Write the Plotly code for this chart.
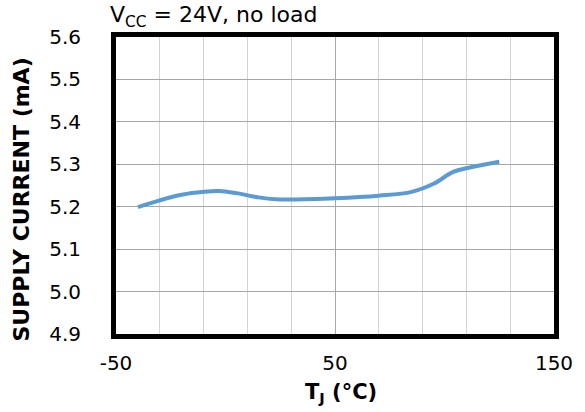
import plotly.graph_objects as go

# Data
temp_c = [-40, -30, -20, -10, -3, 5, 15, 25, 50, 70, 85, 95, 104, 112, 125]
supply_ma = [5.199, 5.215, 5.228, 5.235, 5.237, 5.232, 5.222, 5.217, 5.220, 5.226,
             5.235, 5.254, 5.282, 5.293, 5.306]

x_ticks = [-50, 50, 150]
x_tick_text = ["-50", "50", "150"]
y_ticks = [4.9, 5.0, 5.1, 5.2, 5.3, 5.4, 5.5, 5.6]
y_tick_text = ["4.9", "5.0", "5.1", "5.2", "5.3", "5.4", "5.5", "5.6"]

FONT = "DejaVu Sans, Arial, sans-serif"

fig = go.Figure()
fig.add_trace(go.Scatter(
    x=temp_c, y=supply_ma, mode="lines",
    line=dict(color="#5b9bd5", width=4, shape="spline", smoothing=1.0),
    hoverinfo="skip", showlegend=False,
))

fig.update_layout(
    width=585, height=412,
    margin=dict(l=116, r=29, t=37, b=78),
    paper_bgcolor="white", plot_bgcolor="white",
    font=dict(family=FONT, size=20, color="black"),
    xaxis=dict(
        range=[-50, 150], tickmode="array", tickvals=x_ticks, ticktext=x_tick_text,
        showgrid=True, gridcolor="#a6a6a6", gridwidth=1,
        minor=dict(dtick=20, tick0=-50, showgrid=True, gridcolor="#d4d4d4", gridwidth=1),
        showline=True, linecolor="black", linewidth=5, mirror=True,
        ticks="outside", ticklen=0, ticklabelstandoff=7,
        zeroline=False,
    ),
    yaxis=dict(
        range=[4.9, 5.6], tickmode="array", tickvals=y_ticks, ticktext=y_tick_text,
        showgrid=True, gridcolor="#a6a6a6", gridwidth=1,
        showline=True, linecolor="black", linewidth=5, mirror=True,
        ticks="outside", ticklen=0, ticklabelstandoff=26,
        zeroline=False,
    ),
    annotations=[
        dict(text="V<sub>CC</sub> = 24V, no load", xref="paper", yref="paper",
             x=-0.018, y=1.0, xanchor="left", yanchor="bottom", yshift=4,
             showarrow=False, font=dict(family=FONT, size=22)),
        dict(text="<b>T<sub>J</sub> (°C)</b>", xref="paper", yref="paper",
             x=0.5, y=0, xanchor="center", yanchor="top", yshift=-44, xshift=6,
             showarrow=False, font=dict(family=FONT, size=21)),
        dict(text="<b>SUPPLY CURRENT (mA)</b>", xref="paper", yref="paper",
             x=0, y=0.5, xanchor="center", yanchor="middle", xshift=-95, yshift=-14,
             textangle=-90, showarrow=False, font=dict(family=FONT, size=22)),
    ],
)

fig.write_html("out.html")
